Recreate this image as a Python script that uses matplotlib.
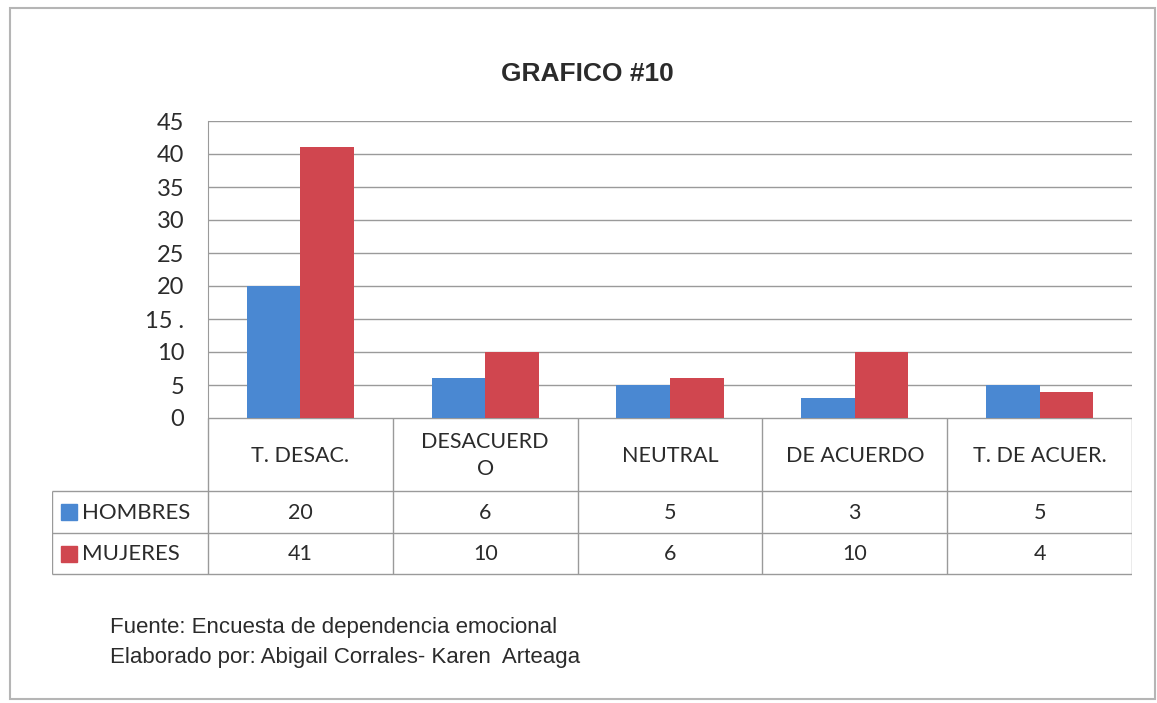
import matplotlib.pyplot as plt
from matplotlib.patches import Rectangle

# data
categorias = ['T. DESAC.', 'DESACUERD\nO', 'NEUTRAL', 'DE ACUERDO', 'T. DE ACUER.']
hombres = [20, 6, 5, 3, 5]
mujeres = [41, 10, 6, 10, 4]
series = ['HOMBRES', 'MUJERES']
yticks = [0, 5, 10, 15, 20, 25, 30, 35, 40, 45]
ytick_labels = ['0', '5', '10', '15 .', '20', '25', '30', '35', '40', '45']

azul = '#4a88d2'
rojo = '#d0464f'
gris = '#9a9a9a'
texto = '#2b2b2b'

W, H = 1157, 703
fig = plt.figure(figsize=(W / 100, H / 100), dpi=100)
fig.patch.set_facecolor('white')

def px_rect(x0, y0, x1, y1):
    # pixel box (top-left origin) -> figure fraction [left, bottom, width, height]
    return [x0 / W, 1 - y1 / H, (x1 - x0) / W, (y1 - y0) / H]

# outer frame
fig.patches.append(Rectangle((10 / W, 1 - 699 / H), 1145 / W, 691 / H,
                             transform=fig.transFigure, fill=False,
                             edgecolor='#b5b5b5', linewidth=1.5))

# main bar axes
ax = fig.add_axes(px_rect(208, 121, 1132, 418))
x = list(range(len(categorias)))
bw = 0.29
ax.bar([i - bw / 2 for i in x], hombres, width=bw, color=azul, zorder=3)
ax.bar([i + bw / 2 for i in x], mujeres, width=bw, color=rojo, zorder=3)
ax.set_xlim(-0.5, len(categorias) - 0.5)
ax.set_ylim(0, 45)
ax.set_yticks(yticks)
ax.set_yticklabels(ytick_labels, family='Lato', fontsize=17, color=texto)
ax.set_xticks([])
ax.tick_params(axis='y', length=0, pad=17)
ax.grid(axis='y', color=gris, linewidth=1, zorder=0)
for s in ['top', 'right', 'bottom']:
    ax.spines[s].set_visible(False)
ax.spines['left'].set_color(gris)

# data table below the plot
x_leg = -0.5 + (52 - 208) / 184.8
tax = fig.add_axes(px_rect(52, 418, 1132, 576))
tax.set_xlim(x_leg, len(categorias) - 0.5)
tax.set_ylim(576, 418)
tax.axis('off')
rows = [418, 491, 533, 574]
n = len(categorias)
tax.hlines(rows[0], -0.5, n - 0.5, color=gris, lw=1)
for r in rows[1:]:
    tax.hlines(r, x_leg, n - 0.5, color=gris, lw=1)
tax.vlines(x_leg, rows[1], rows[3], color=gris, lw=1)
for k in range(n + 1):
    tax.vlines(k - 0.5, rows[0], rows[3], color=gris, lw=1)

for i, cat in enumerate(categorias):
    tax.text(i, (rows[0] + rows[1]) / 2 + 1, cat, ha='center', va='center',
             family='Lato', fontsize=15.5, color=texto, linespacing=1.45)
    tax.text(i, (rows[1] + rows[2]) / 2 + 1, str(hombres[i]), ha='center', va='center',
             family='Lato', fontsize=15.5, color=texto)
    tax.text(i, (rows[2] + rows[3]) / 2 + 1, str(mujeres[i]), ha='center', va='center',
             family='Lato', fontsize=15.5, color=texto)

sq_x = -0.5 + (69 - 208) / 184.8
txt_x = -0.5 + (82 - 208) / 184.8
for j, (name, col) in enumerate(zip(series, [azul, rojo])):
    yc = (rows[j + 1] + rows[j + 2]) / 2
    tax.plot(sq_x, yc, marker='s', markersize=11, color=col, clip_on=False)
    tax.text(txt_x, yc + 1, name, ha='left', va='center',
             family='Lato', fontsize=16, color=texto)

# title and footer
fig.text(587 / W, 1 - 74 / H, 'GRAFICO #10', ha='center', va='center',
         family='Liberation Sans', fontweight='bold', fontsize=19, color=texto)
fig.text(110 / W, 1 - 627 / H, 'Fuente: Encuesta de dependencia emocional',
         ha='left', va='center', family='Liberation Sans', fontsize=16, color=texto)
fig.text(110 / W, 1 - 657 / H, 'Elaborado por: Abigail Corrales- Karen  Arteaga',
         ha='left', va='center', family='Liberation Sans', fontsize=16, color=texto)

fig.savefig('out.png', dpi=100)
